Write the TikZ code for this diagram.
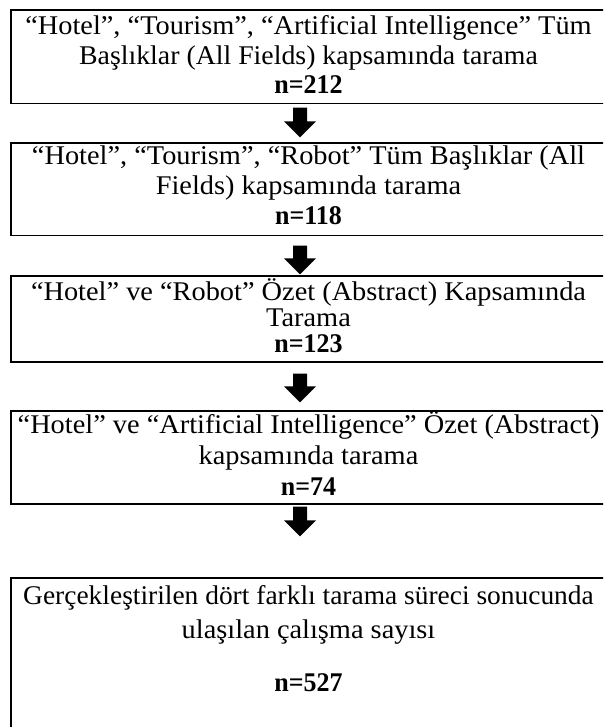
\documentclass[tikz,border=0pt]{standalone}
\usepackage{graphicx}
\usepackage{fontspec}
\setmainfont{Liberation Serif}[Ligatures=NoCommon]
\usetikzlibrary{calc}
\newcommand{\wide}[2][1.05]{\scalebox{#1}[1]{#2}}
\newcommand{\blockarrow}[2]{%
  \fill[arrowfill] ($(#1)+(-7,0)$) -- ($(#1)+(7,0)$) -- ($(#2)+(7,-16)$) -- ($(#2)+(16,-16)$) -- (#2) -- ($(#2)+(-16,-16)$) -- ($(#2)+(-7,-16)$) -- cycle;}
\tikzset{
  box/.style={draw=black, line width=1.4pt, rectangle, inner sep=0pt, minimum width=595pt},
  txt/.style={inner sep=0pt, anchor=base, font=\fontsize{27}{31}\selectfont},
  arrowfill/.style={fill=black},
}
\begin{document}
\begin{tikzpicture}[x=1pt,y=-1pt]
\useasboundingbox (0,0) rectangle (603,727);
\clip (0,0) rectangle (603,727);
% boxes
\node[box, minimum height=93.5pt] (b1) at (308.5,56.75) {};
\node[box, minimum height=92.5pt] (b2) at (308.5,189.25) {};
\node[box, minimum height=86pt] (b3) at (308.5,319) {};
\node[box, minimum height=93pt] (b4) at (308.5,457.5) {};
\node[box, minimum height=190pt] (b5) at (308.5,673) {};
% texts
\node[txt] (t1a) at ($(b1.north)+(0,25.5)$) {\wide{“Hotel”, “Tourism”, “Artificial Intelligence” Tüm}};
\node[txt] (t1b) at ($(b1.north)+(0,55)$) {\wide[1.03]{Başlıklar (All Fields) kapsamında tarama}};
\node[txt] (t1c) at ($(b1.north)+(0,84.5)$) {\wide[0.963]{\textbf{n=212}}};
\node[txt] (t2a) at ($(b2.north)+(0,22.5)$) {\wide{“Hotel”, “Tourism”, “Robot” Tüm Başlıklar (All}};
\node[txt] (t2b) at ($(b2.north)+(0,52.5)$) {\wide{Fields) kapsamında tarama}};
\node[txt] (t2c) at ($(b2.north)+(0,82.5)$) {\wide[0.963]{\textbf{n=118}}};
\node[txt] (t3a) at ($(b3.north)+(0,25.5)$) {\wide{“Hotel” ve “Robot” Özet (Abstract) Kapsamında}};
\node[txt] (t3b) at ($(b3.north)+(0,51.5)$) {\wide{Tarama}};
\node[txt] (t3c) at ($(b3.north)+(0,77.5)$) {\wide[0.963]{\textbf{n=123}}};
\node[txt] (t4a) at ($(b4.north)+(0,23.5)$) {\wide{“Hotel” ve “Artificial Intelligence” Özet (Abstract)}};
\node[txt] (t4b) at ($(b4.north)+(0,54.5)$) {\wide{kapsamında tarama}};
\node[txt] (t4c) at ($(b4.north)+(0,85.5)$) {\wide[0.963]{\textbf{n=74}}};
\node[txt] (t5a) at ($(b5.north)+(0,27.5)$) {\wide[1.016]{Gerçekleştirilen dört farklı tarama süreci sonucunda}};
\node[txt] (t5b) at ($(b5.north)+(0,61.5)$) {\wide{ulaşılan çalışma sayısı}};
\node[txt] (t5c) at ($(b5.north)+(0,114.5)$) {\wide[0.963]{\textbf{n=527}}};
% arrows
\coordinate (a1s) at ($(b1.south)+(-8.5,3.5)$);
\coordinate (a1t) at ($(b2.north)+(-8.5,-5)$);
\coordinate (a2s) at ($(b2.south)+(-8.5,9.5)$);
\coordinate (a2t) at ($(b3.north)+(-8.5,-1)$);
\coordinate (a3s) at ($(b3.south)+(-8.5,11)$);
\coordinate (a3t) at ($(b4.north)+(-8.5,-8)$);
\coordinate (a4s) at ($(b4.south)+(-8.5,2)$);
\coordinate (a4t) at ($(b5.north)+(-8.5,-41)$);
\blockarrow{a1s}{a1t}
\blockarrow{a2s}{a2t}
\blockarrow{a3s}{a3t}
\blockarrow{a4s}{a4t}
\end{tikzpicture}
\end{document}
